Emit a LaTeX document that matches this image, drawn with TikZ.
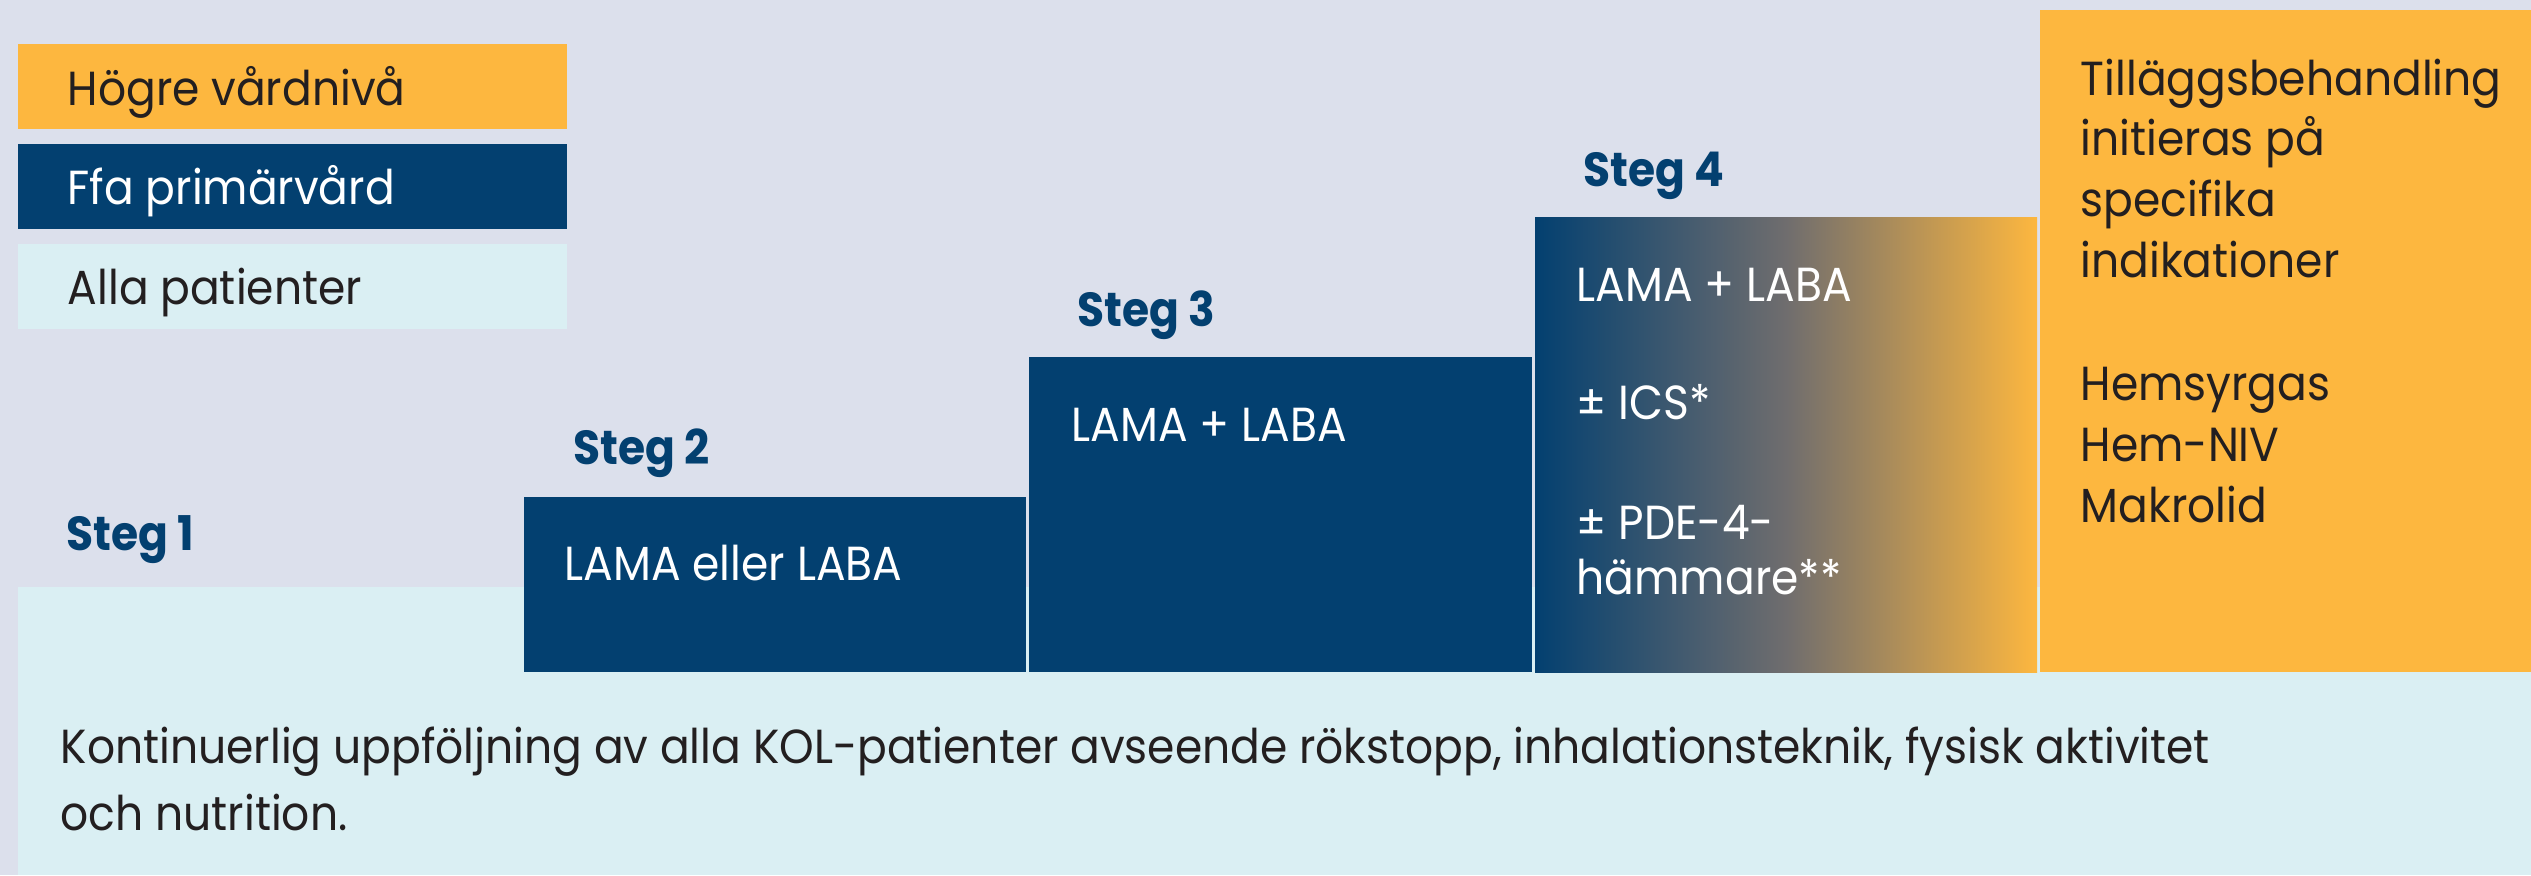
\documentclass[tikz,border=0pt]{standalone}
\usepackage{fontspec}
\setmainfont{Poppins}[FakeStretch=0.92]
\begin{document}
\definecolor{bgc}{HTML}{DCE0EC}
\definecolor{orangec}{HTML}{FDB73F}
\definecolor{navyc}{HTML}{034070}
\definecolor{lightc}{HTML}{DAEFF3}
\definecolor{inkc}{HTML}{231F20}
\definecolor{midc}{HTML}{6F6D6E}
\begin{tikzpicture}[x=0.01cm,y=-0.01cm,
  txt/.style={anchor=base west,inner sep=0pt,font=\fontsize{13.6pt}{16pt}\selectfont},
  darktxt/.style={txt,text=inkc},
  whitetxt/.style={txt,text=white},
  steplbl/.style={txt,text=navyc,font=\fontsize{13.6pt}{16pt}\selectfont\bfseries}]
% canvas
\fill[bgc] (0,0) rectangle (2531,875);
\useasboundingbox (0,0) rectangle (2531,875);
% legend
\fill[orangec] (18,44) rectangle (567,129);
\fill[navyc] (18,144) rectangle (567,229);
\fill[lightc] (18,244) rectangle (567,329);
\node[darktxt] (lgHigh) at (67,105) {Högre vårdnivå};
\node[whitetxt] (lgPrim) at (67,204) {Ffa primärvård};
\node[darktxt] (lgAll) at (67,304) {Alla patienter};
% base band for all patients
\fill[lightc] (18,587) rectangle (2531,875);
% step boxes
\fill[navyc] (524,497) rectangle (1026,672);
\fill[navyc] (1029,357) rectangle (1532,672);
\shade[left color=navyc,right color=orangec,middle color=midc] (1535,217) rectangle (2037,672);
\fill[orangec] (2040,10) rectangle (2531,672);
% step labels
\node[steplbl] (s1) at (66,550) {Steg 1};
\node[steplbl] (s2) at (573,464) {Steg 2};
\node[steplbl] (s3) at (1077,326) {Steg 3};
\node[steplbl] (s4) at (1583,186) {Steg 4};
% treatments
\node[whitetxt] (t2) at (564,580) {LAMA eller LABA};
\node[whitetxt] (t3) at (1071,441) {LAMA + LABA};
\node[whitetxt] (t4a) at (1576,301) {LAMA + LABA};
\node[whitetxt] (t4b) at (1576,419) {± ICS*};
\node[whitetxt] (t4c) at (1576,539) {± PDE-4-};
\node[whitetxt] (t4d) at (1576,594) {hämmare**};
% add-on treatment
\node[darktxt] (a1) at (2080,95) {Tilläggsbehandling};
\node[darktxt] (a2) at (2080,155) {initieras på};
\node[darktxt] (a3) at (2080,216) {specifika};
\node[darktxt] (a4) at (2080,277) {indikationer};
\node[darktxt] (a5) at (2080,400) {Hemsyrgas};
\node[darktxt] (a6) at (2080,461) {Hem-NIV};
\node[darktxt] (a7) at (2080,522) {Makrolid};
% follow-up note
\node[darktxt] (f1) at (60,763) {Kontinuerlig uppföljning av alla KOL-patienter avseende rökstopp, inhalationsteknik, fysisk aktivitet};
\node[darktxt] (f2) at (60,830) {och nutrition.};
\end{tikzpicture}
\end{document}
